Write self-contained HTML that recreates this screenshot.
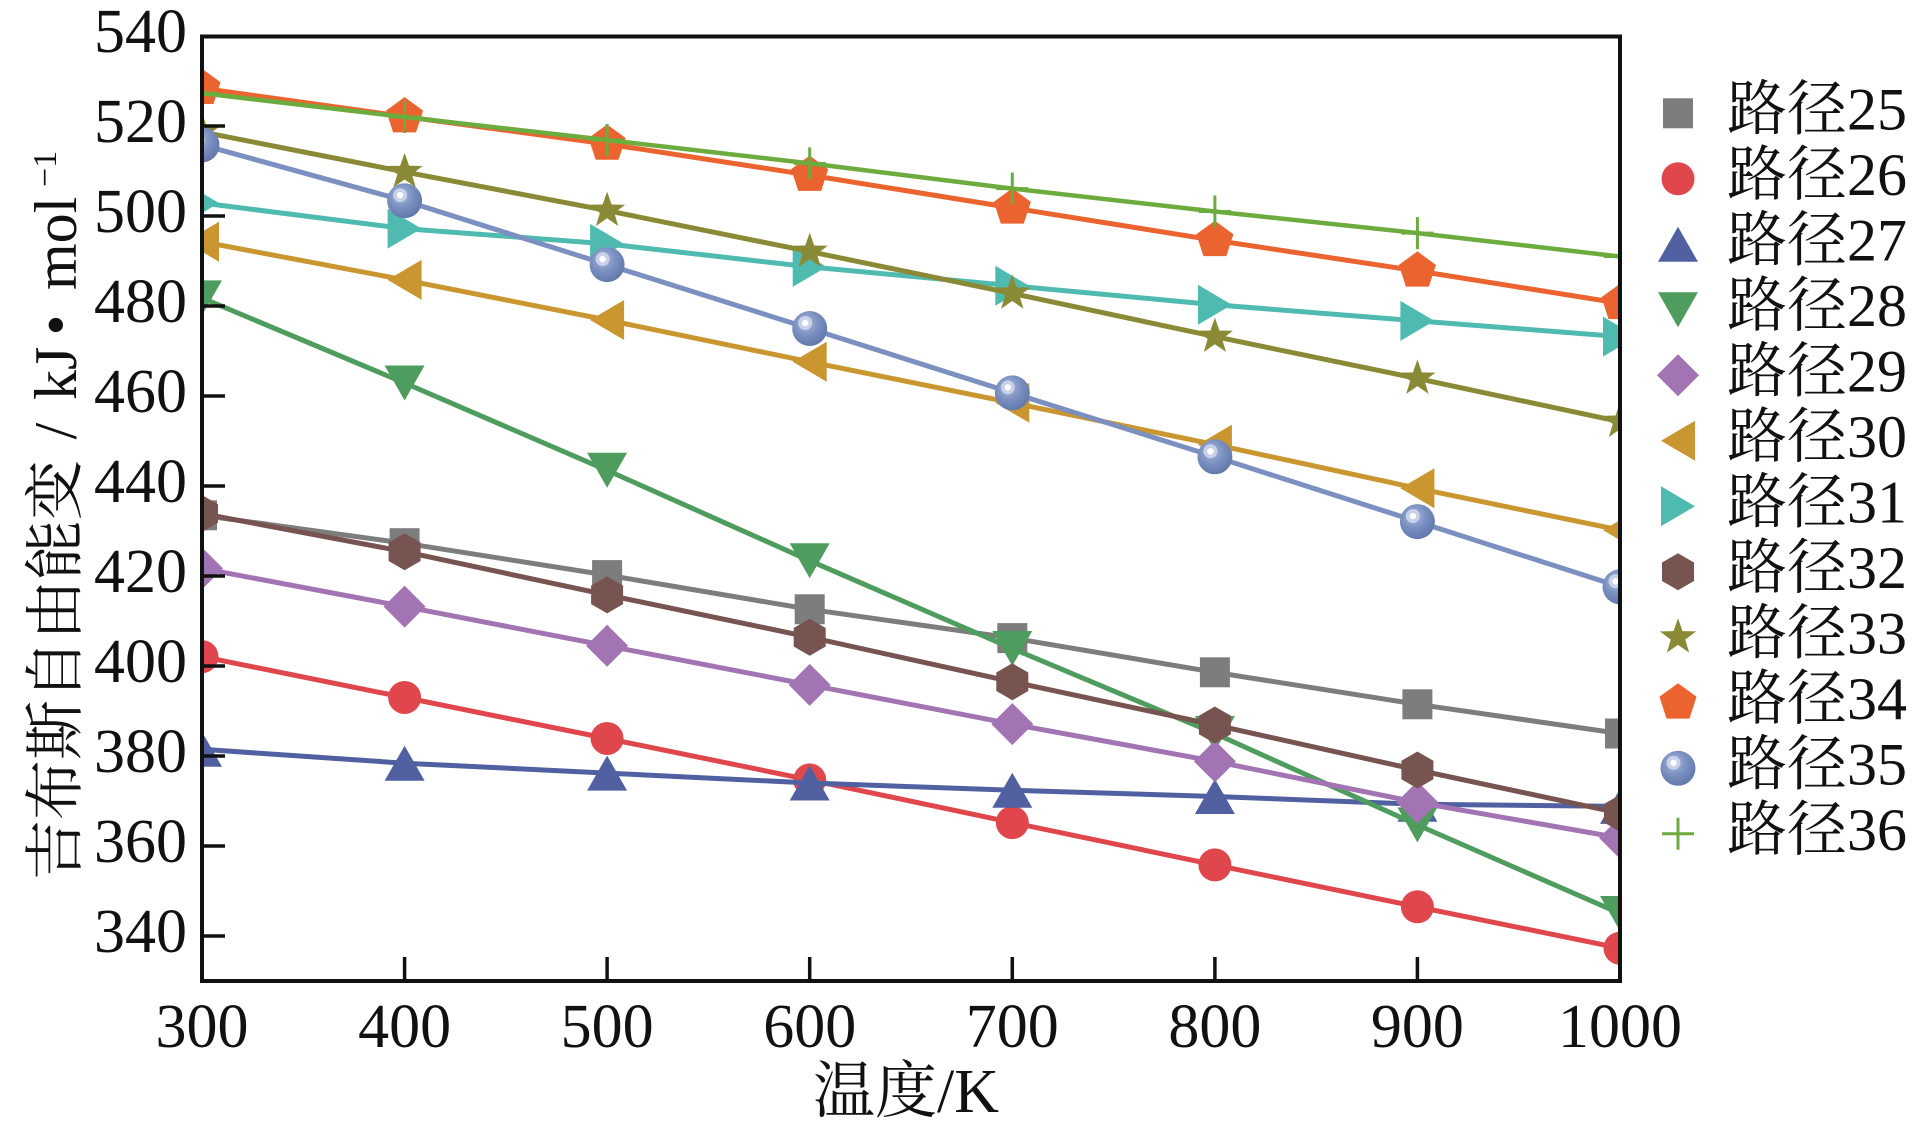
<!DOCTYPE html>
<html>
<head>
<meta charset="utf-8">
<style>
html,body{margin:0;padding:0;background:#fff;}
svg{display:block;}
text{font-family:"Liberation Serif","Noto Serif CJK SC",serif;fill:#111;}
</style>
</head>
<body>
<svg width="1913" height="1131" viewBox="0 0 1913 1131" xmlns="http://www.w3.org/2000/svg">
<defs>
<clipPath id="c"><rect x="202" y="36" width="1418" height="945"/></clipPath>
<radialGradient id="sg" cx="0.4" cy="0.35" r="0.7">
<stop offset="0" stop-color="#a9b8dc"/>
<stop offset="0.5" stop-color="#7a90c0"/>
<stop offset="1" stop-color="#5f75a8"/>
</radialGradient>
<g id="m25"><rect x="-15" y="-15" width="30" height="30" fill="#7d7d7d"/></g>
<g id="m26"><circle r="16.5" fill="#e0474c"/></g>
<g id="m27"><polygon points="0,-17.5 20,17.5 -20,17.5" fill="#5060a0"/></g>
<g id="m28"><polygon points="0,17.5 20,-17.5 -20,-17.5" fill="#4f9d5e"/></g>
<g id="m29"><polygon points="0,-21 21,0 0,21 -21,0" fill="#a274b3"/></g>
<g id="m30"><polygon points="-17,0 17,-20 17,20" fill="#c9962f"/></g>
<g id="m31"><polygon points="17,0 -17,-20 -17,20" fill="#4fbbb0"/></g>
<g id="m32"><polygon points="0,-18.5 16,-9.25 16,9.25 0,18.5 -16,9.25 -16,-9.25" fill="#775450"/></g>
<g id="m33"><polygon points="0,-19 4.47,-6.15 18.07,-5.87 7.23,2.35 11.17,15.37 0,7.6 -11.17,15.37 -7.23,2.35 -18.07,-5.87 -4.47,-6.15" fill="#8a8a36"/></g>
<g id="m34"><polygon points="0,-19.5 18.55,-6.03 11.46,15.78 -11.46,15.78 -18.55,-6.03" fill="#eb6430"/></g>
<g id="m35"><circle r="17.5" fill="url(#sg)"/><circle cx="-4.5" cy="-5.5" r="7" fill="#c9d1ea"/><circle cx="-4.5" cy="-5.5" r="3.2" fill="#fff"/></g>
<g id="m36"><path d="M-16,0H16M0,-16V16" stroke="#6cab3d" stroke-width="3" fill="none"/></g>
</defs>

<!-- series -->
<g clip-path="url(#c)" fill="none" stroke-width="5" stroke-linejoin="round">
<!-- 25 -->
<polyline stroke="#7d7d7d" points="202,515.3 404.6,543.2 607.1,575.1 809.7,609.3 1012.3,638.1 1214.9,672.3 1417.4,704.3 1620,733.5"/>
<use href="#m25" x="202" y="515.3"/><use href="#m25" x="404.6" y="543.2"/><use href="#m25" x="607.1" y="575.1"/><use href="#m25" x="809.7" y="609.3"/><use href="#m25" x="1012.3" y="638.1"/><use href="#m25" x="1214.9" y="672.3"/><use href="#m25" x="1417.4" y="704.3"/><use href="#m25" x="1620" y="733.5"/>
<!-- 26 -->
<polyline stroke="#e0474c" points="202,656.6 404.6,697.5 607.1,738.5 809.7,779.9 1012.3,822.6 1214.9,864.9 1417.4,906.8 1620,948.2"/>
<use href="#m26" x="202" y="656.6"/><use href="#m26" x="404.6" y="697.5"/><use href="#m26" x="607.1" y="738.5"/><use href="#m26" x="809.7" y="779.9"/><use href="#m26" x="1012.3" y="822.6"/><use href="#m26" x="1214.9" y="864.9"/><use href="#m26" x="1417.4" y="906.8"/><use href="#m26" x="1620" y="948.2"/>
<!-- 27 -->
<polyline stroke="#5060a0" points="202,749.3 404.6,763.2 607.1,773.1 809.7,783 1012.3,790.2 1214.9,796.5 1417.4,804.2 1620,806.4"/>
<use href="#m27" x="202" y="749.3"/><use href="#m27" x="404.6" y="763.2"/><use href="#m27" x="607.1" y="773.1"/><use href="#m27" x="809.7" y="783"/><use href="#m27" x="1012.3" y="790.2"/><use href="#m27" x="1214.9" y="796.5"/><use href="#m27" x="1417.4" y="804.2"/><use href="#m27" x="1620" y="806.4"/>
<!-- 28 -->
<polyline stroke="#4f9d5e" points="202,297.9 404.6,383 607.1,470.3 809.7,560.7 1012.3,648.5 1214.9,733.5 1417.4,824.9 1620,913.5"/>
<use href="#m28" x="202" y="297.9"/><use href="#m28" x="404.6" y="383"/><use href="#m28" x="607.1" y="470.3"/><use href="#m28" x="809.7" y="560.7"/><use href="#m28" x="1012.3" y="648.5"/><use href="#m28" x="1214.9" y="733.5"/><use href="#m28" x="1417.4" y="824.9"/><use href="#m28" x="1620" y="913.5"/>
<!-- 29 -->
<polyline stroke="#a274b3" points="202,568.4 404.6,606.6 607.1,645.8 809.7,684.9 1012.3,724.1 1214.9,761.4 1417.4,802.4 1620,837.9"/>
<use href="#m29" x="202" y="568.4"/><use href="#m29" x="404.6" y="606.6"/><use href="#m29" x="607.1" y="645.8"/><use href="#m29" x="809.7" y="684.9"/><use href="#m29" x="1012.3" y="724.1"/><use href="#m29" x="1214.9" y="761.4"/><use href="#m29" x="1417.4" y="802.4"/><use href="#m29" x="1620" y="837.9"/>
<!-- 30 -->
<polyline stroke="#c9962f" points="202,241.7 404.6,279.9 607.1,320 809.7,361.8 1012.3,402.8 1214.9,444.6 1417.4,488.3 1620,530.1"/>
<use href="#m30" x="202" y="241.7"/><use href="#m30" x="404.6" y="279.9"/><use href="#m30" x="607.1" y="320"/><use href="#m30" x="809.7" y="361.8"/><use href="#m30" x="1012.3" y="402.8"/><use href="#m30" x="1214.9" y="444.6"/><use href="#m30" x="1417.4" y="488.3"/><use href="#m30" x="1620" y="530.1"/>
<!-- 31 -->
<polyline stroke="#4fbbb0" points="202,203 404.6,228.6 607.1,243.9 809.7,266.9 1012.3,285.8 1214.9,304.7 1417.4,320.9 1620,336.6"/>
<use href="#m31" x="202" y="203"/><use href="#m31" x="404.6" y="228.6"/><use href="#m31" x="607.1" y="243.9"/><use href="#m31" x="809.7" y="266.9"/><use href="#m31" x="1012.3" y="285.8"/><use href="#m31" x="1214.9" y="304.7"/><use href="#m31" x="1417.4" y="320.9"/><use href="#m31" x="1620" y="336.6"/>
<!-- 32 -->
<polyline stroke="#775450" points="202,513.5 404.6,551.7 607.1,594.9 809.7,637.2 1012.3,681.8 1214.9,725 1417.4,770 1620,813.2"/>
<use href="#m32" x="202" y="513.5"/><use href="#m32" x="404.6" y="551.7"/><use href="#m32" x="607.1" y="594.9"/><use href="#m32" x="809.7" y="637.2"/><use href="#m32" x="1012.3" y="681.8"/><use href="#m32" x="1214.9" y="725"/><use href="#m32" x="1417.4" y="770"/><use href="#m32" x="1620" y="813.2"/>
<!-- 33 -->
<polyline stroke="#8a8a36" points="202,131.9 404.6,171.9 607.1,210.6 809.7,251.6 1012.3,293.4 1214.9,336.6 1417.4,378.5 1620,421.7"/>
<use href="#m33" x="202" y="131.9"/><use href="#m33" x="404.6" y="171.9"/><use href="#m33" x="607.1" y="210.6"/><use href="#m33" x="809.7" y="251.6"/><use href="#m33" x="1012.3" y="293.4"/><use href="#m33" x="1214.9" y="336.6"/><use href="#m33" x="1417.4" y="378.5"/><use href="#m33" x="1620" y="421.7"/>
<!-- 34 -->
<polyline stroke="#eb6430" points="202,88.2 404.6,116.6 607.1,144 809.7,175.1 1012.3,207.9 1214.9,240.3 1417.4,270.9 1620,303.3"/>
<use href="#m34" x="202" y="88.2"/><use href="#m34" x="404.6" y="116.6"/><use href="#m34" x="607.1" y="144"/><use href="#m34" x="809.7" y="175.1"/><use href="#m34" x="1012.3" y="207.9"/><use href="#m34" x="1214.9" y="240.3"/><use href="#m34" x="1417.4" y="270.9"/><use href="#m34" x="1620" y="303.3"/>
<!-- 35 -->
<polyline stroke="#7b8fc0" points="202,144.9 404.6,200.7 607.1,264.6 809.7,328.5 1012.3,392.9 1214.9,456.8 1417.4,521.6 1620,586.8"/>
<use href="#m35" x="202" y="144.9"/><use href="#m35" x="404.6" y="200.7"/><use href="#m35" x="607.1" y="264.6"/><use href="#m35" x="809.7" y="328.5"/><use href="#m35" x="1012.3" y="392.9"/><use href="#m35" x="1214.9" y="456.8"/><use href="#m35" x="1417.4" y="521.6"/><use href="#m35" x="1620" y="586.8"/>
<!-- 36 -->
<polyline stroke="#6cab3d" stroke-width="4.5" points="202,93.2 404.6,117 607.1,140 809.7,163.4 1012.3,188.6 1214.9,211.5 1417.4,233.1 1620,256.5"/>
<use href="#m36" x="202" y="93.2"/><use href="#m36" x="404.6" y="117"/><use href="#m36" x="607.1" y="140"/><use href="#m36" x="809.7" y="163.4"/><use href="#m36" x="1012.3" y="188.6"/><use href="#m36" x="1214.9" y="211.5"/><use href="#m36" x="1417.4" y="233.1"/><use href="#m36" x="1620" y="256.5"/>
</g>

<!-- axes frame -->
<rect x="202" y="36.5" width="1418" height="944.5" fill="none" stroke="#111" stroke-width="4"/>
<!-- y ticks -->
<path stroke="#111" stroke-width="3.5" d="M202,126H225M202,216H225M202,306H225M202,396H225M202,486H225M202,576H225M202,666H225M202,756H225M202,846H225M202,936H225"/>
<!-- x ticks -->
<path stroke="#111" stroke-width="3.5" d="M404.6,981V957M607.1,981V957M809.7,981V957M1012.3,981V957M1214.9,981V957M1417.4,981V957"/>

<!-- y tick labels -->
<g font-size="62" text-anchor="end">
<text x="187" y="52">540</text>
<text x="187" y="142">520</text>
<text x="187" y="232">500</text>
<text x="187" y="322">480</text>
<text x="187" y="412">460</text>
<text x="187" y="502">440</text>
<text x="187" y="592">420</text>
<text x="187" y="682">400</text>
<text x="187" y="772">380</text>
<text x="187" y="862">360</text>
<text x="187" y="952">340</text>
</g>
<!-- x tick labels -->
<g font-size="62" text-anchor="middle">
<text x="202" y="1047">300</text>
<text x="404.6" y="1047">400</text>
<text x="607.1" y="1047">500</text>
<text x="809.7" y="1047">600</text>
<text x="1012.3" y="1047">700</text>
<text x="1214.9" y="1047">800</text>
<text x="1417.4" y="1047">900</text>
<text x="1620" y="1047">1000</text>
</g>

<!-- x label -->
<text x="906" y="1112" font-size="62" text-anchor="middle">温度/K</text>

<!-- y label -->
<g transform="translate(76,880) rotate(-90)" font-size="60">
<text x="0" y="0">吉布斯自由能变</text>
<text x="449" y="0" text-anchor="middle">/</text>
<text x="480" y="0">kJ</text>
<text x="555" y="0" text-anchor="middle">•</text>
<text x="590" y="0">mol</text>
<text x="693" y="-20" font-size="34">−1</text>
</g>

<!-- legend -->
<use href="#m25" x="1678" y="113.3"/>
<use href="#m26" x="1678" y="178.8"/>
<use href="#m27" x="1678" y="244.3"/>
<use href="#m28" x="1678" y="309.8"/>
<use href="#m29" x="1678" y="375.3"/>
<use href="#m30" x="1678" y="440.8"/>
<use href="#m31" x="1678" y="506.3"/>
<use href="#m32" x="1678" y="571.8"/>
<use href="#m33" x="1678" y="637.3"/>
<use href="#m34" x="1678" y="702.8"/>
<use href="#m35" x="1678" y="768.3"/>
<use href="#m36" x="1678" y="833.8"/>
<g font-size="60">
<text x="1727" y="129.3">路径25</text>
<text x="1727" y="194.8">路径26</text>
<text x="1727" y="260.3">路径27</text>
<text x="1727" y="325.8">路径28</text>
<text x="1727" y="391.3">路径29</text>
<text x="1727" y="456.8">路径30</text>
<text x="1727" y="522.3">路径31</text>
<text x="1727" y="587.8">路径32</text>
<text x="1727" y="653.3">路径33</text>
<text x="1727" y="718.8">路径34</text>
<text x="1727" y="784.3">路径35</text>
<text x="1727" y="849.8">路径36</text>
</g>
</svg>
</body>
</html>
